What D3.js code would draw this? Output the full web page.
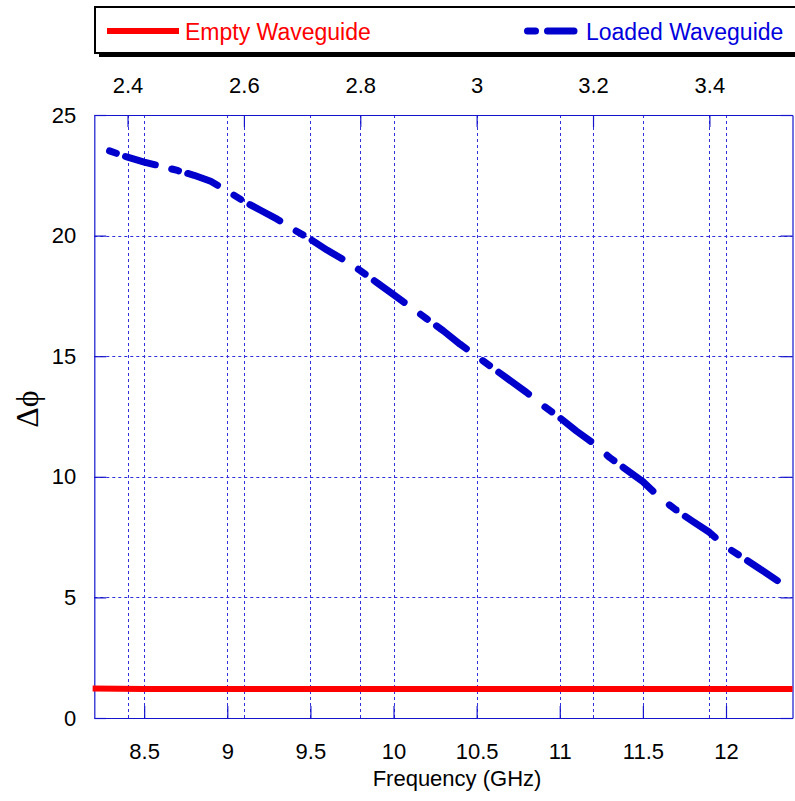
<!DOCTYPE html>
<html>
<head>
<meta charset="utf-8">
<script src="https://cdn.jsdelivr.net/npm/d3@7/dist/d3.min.js"></script>
<style>
  html, body { margin: 0; padding: 0; background: #fff; }
  svg { display: block; font-family: Arial, "Liberation Sans", sans-serif; }
</style>
</head>
<body>
<svg id="chart" width="795" height="801"></svg>
<script>
// Phase difference vs frequency for the empty and dielectric-loaded waveguide
const freqLoaded = [8.276, 8.4, 8.5, 8.6, 8.7, 8.8, 8.9, 9.0, 9.1, 9.2, 9.3, 9.4, 9.5, 9.6, 9.7, 9.8, 9.9, 10.0,
  10.1, 10.2, 10.3, 10.4, 10.5, 10.6, 10.7, 10.8, 10.9, 11.0, 11.1, 11.2, 11.3, 11.4, 11.5, 11.6, 11.7, 11.8,
  11.9, 12.0, 12.1, 12.2, 12.325];
const phaseLoaded = [23.55, 23.25, 23.05, 22.88, 22.7, 22.5, 22.25, 21.85, 21.42, 21.05, 20.68, 20.25, 19.85,
  19.4, 19.0, 18.55, 18.05, 17.55, 17.05, 16.55, 16.05, 15.5, 15.0, 14.5, 14.0, 13.5, 12.95, 12.45, 11.9, 11.4,
  10.8, 10.3, 9.8, 9.15, 8.62, 8.15, 7.7, 7.1, 6.65, 6.2, 5.62];

const freqEmpty = [8.19, 8.5, 9.0, 9.5, 10.0, 10.5, 11.0, 11.5, 12.0, 12.4];
const phaseEmpty = [1.22, 1.2, 1.2, 1.2, 1.2, 1.2, 1.2, 1.2, 1.2, 1.2];

const freqTicks = [8.5, 9, 9.5, 10, 10.5, 11, 11.5, 12];
const normTicks = [2.4, 2.6, 2.8, 3, 3.2, 3.4];   // top axis: frequency / 3.5
const phaseTicks = [0, 5, 10, 15, 20, 25];
const seriesNames = ["Empty Waveguide", "Loaded Waveguide"];

const svg = d3.select("#chart");
const plotL = 94.3, plotR = 792.5, plotT = 115, plotB = 718;

const x = d3.scaleLinear().domain([8.2, 12.4]).range([plotL, plotR]);
const xTop = d3.scaleLinear().domain([8.2 / 3.5, 12.4 / 3.5]).range([plotL, plotR]);
const y = d3.scaleLinear().domain([0, 25]).range([plotB, plotT]);

const frameColor = "#1414cc";
const gridColor = "#3030dd";
const blue = "#0000cc";
const fmt = d3.format("~g");

// dotted grid
const grid = svg.append("g").attr("stroke", gridColor).attr("stroke-width", 1)
  .attr("stroke-dasharray", "3,3").attr("fill", "none");
grid.selectAll("line.gb").data(freqTicks).join("line").attr("class", "gb")
  .attr("x1", d => Math.round(x(d)) + 0.5).attr("x2", d => Math.round(x(d)) + 0.5)
  .attr("y1", plotT).attr("y2", plotB);
grid.selectAll("line.gt").data(normTicks).join("line").attr("class", "gt")
  .attr("x1", d => Math.round(xTop(d)) + 0.5).attr("x2", d => Math.round(xTop(d)) + 0.5)
  .attr("y1", plotT).attr("y2", plotB);
grid.selectAll("line.gh").data(phaseTicks.filter(d => d > 0 && d < 25)).join("line").attr("class", "gh")
  .attr("x1", plotL).attr("x2", plotR)
  .attr("y1", d => Math.round(y(d)) + 0.5).attr("y2", d => Math.round(y(d)) + 0.5);

// axes with inward ticks
function styleAxis(g) {
  g.selectAll(".domain").attr("stroke", frameColor).attr("stroke-width", 1.2);
  g.selectAll(".tick line").attr("stroke", frameColor).attr("stroke-width", 1.2);
  g.selectAll(".tick text").attr("fill", "#000").style("font-size", "22px")
    .style("font-family", "Arial, 'Liberation Sans', sans-serif");
}
svg.append("g").attr("transform", `translate(0,${plotB})`)
  .call(d3.axisBottom(x).tickValues(freqTicks).tickFormat(fmt).tickSize(-12).tickSizeOuter(0).tickPadding(25))
  .call(styleAxis);
svg.append("g").attr("transform", `translate(0,${plotT})`)
  .call(d3.axisTop(xTop).tickValues(normTicks).tickFormat(fmt).tickSize(-12).tickSizeOuter(0).tickPadding(22))
  .call(styleAxis);
svg.append("g").attr("transform", `translate(${plotL},0)`)
  .call(d3.axisLeft(y).tickValues(phaseTicks).tickFormat(fmt).tickSize(-12).tickSizeOuter(0).tickPadding(18))
  .call(styleAxis);
svg.append("g").attr("transform", `translate(${plotR},0)`)
  .call(d3.axisRight(y).tickValues(phaseTicks).tickFormat("").tickSize(-12).tickSizeOuter(0))
  .call(styleAxis);

// empty waveguide: solid red
const line = d3.line().x(d => x(d[0])).y(d => y(d[1]));
svg.append("path")
  .datum(d3.zip(freqEmpty, phaseEmpty))
  .attr("d", line).attr("fill", "none").attr("stroke", "#ff0000").attr("stroke-width", 6);

// loaded waveguide: dash-dot pattern laid out along the frequency axis
// (short dash, small gap, long dash, larger gap), each piece cut from the polyline
const phaseAt = d3.scaleLinear().domain(freqLoaded).range(phaseLoaded);
const pxPerGHz = x(1) - x(0);
const period = 62.2 / pxPerGHz;
const capInset = 2.6 / pxPerGHz;
const pattern = [[0, 12], [16, 51]].map(([a, b]) => [a / pxPerGHz, b / pxPerGHz]);
const fStart = freqLoaded[0], fEnd = freqLoaded[freqLoaded.length - 1];
const pieces = [];
for (let s = fStart; s < fEnd; s += period) {
  for (const [a, b] of pattern) {
    const f0 = Math.max(fStart, s + a) + capInset;
    const f1 = Math.min(fEnd, s + b) - capInset;
    if (f1 <= f0) continue;
    const pts = [[f0, phaseAt(f0)]];
    freqLoaded.forEach((f, i) => { if (f > f0 && f < f1) pts.push([f, phaseLoaded[i]]); });
    pts.push([f1, phaseAt(f1)]);
    pieces.push(pts);
  }
}
svg.append("g").selectAll("path").data(pieces).join("path")
  .attr("d", line).attr("fill", "none").attr("stroke", blue).attr("stroke-width", 7)
  .attr("stroke-linecap", "round").attr("stroke-linejoin", "round");

// axis titles
svg.append("text").attr("x", 457).attr("y", 786).attr("text-anchor", "middle")
  .style("font-size", "22px").text("Frequency (GHz)");
svg.append("text").attr("transform", "translate(38,409) rotate(-90)").attr("text-anchor", "middle")
  .style("font-family", "'Liberation Serif', 'DejaVu Serif', serif").style("font-size", "32px")
  .text("Δϕ");

// legend box with drop shadow
const lg = svg.append("g");
lg.append("rect").attr("x", 99).attr("y", 11).attr("width", 720).attr("height", 46).attr("fill", "#000");
lg.append("rect").attr("x", 95).attr("y", 7).attr("width", 720).attr("height", 46)
  .attr("fill", "#fff").attr("stroke", "#000").attr("stroke-width", 2);
lg.append("line").attr("x1", 107).attr("x2", 179).attr("y1", 31).attr("y2", 31)
  .attr("stroke", "#ff0000").attr("stroke-width", 6);
lg.append("text").attr("x", 185).attr("y", 40).attr("fill", "#ff0000").style("font-size", "23px").text(seriesNames[0]);
lg.selectAll("line.key").data([[527.5, 535.5], [547.5, 574]]).join("line").attr("class", "key")
  .attr("x1", d => d[0]).attr("x2", d => d[1]).attr("y1", 31).attr("y2", 31)
  .attr("stroke", blue).attr("stroke-width", 7).attr("stroke-linecap", "round");
lg.append("text").attr("x", 586).attr("y", 40).attr("fill", "#0000dd").style("font-size", "23px").text(seriesNames[1]);
</script>
</body>
</html>
